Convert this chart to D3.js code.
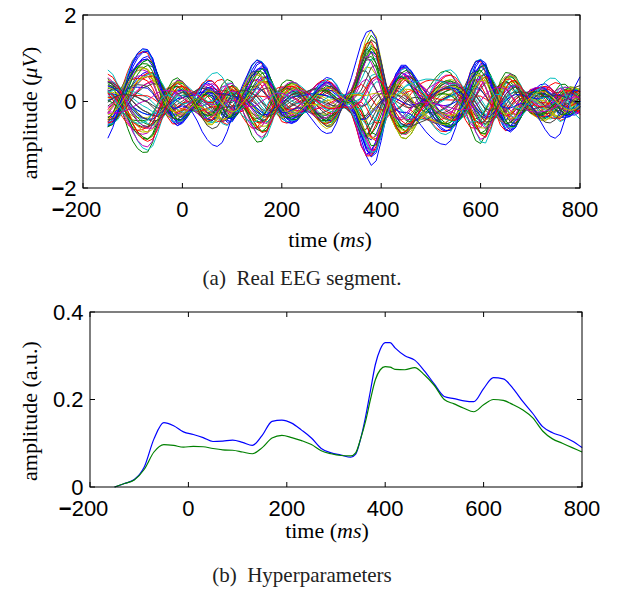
<!DOCTYPE html>
<html lang="en">
<head>
    <meta charset="UTF-8">
    <script src="https://cdn.jsdelivr.net/npm/d3@7"></script>
    <title>EEG segment and hyperparameters</title>
    <style>
        body { margin: 0; background: white; }
        .tick-label { font-family: "Liberation Sans", Arial, sans-serif; font-size: 22px; fill: black; }
        .axis-label { font-family: "Liberation Serif", "Times New Roman", serif; font-size: 22px; fill: black; }
        .caption { font-family: "Liberation Serif", "Times New Roman", serif; font-size: 21px; fill: #222; }
    </style>
</head>
<body>
    <div id="chart"></div>

    <script>
        // ---- (a) real EEG segment: sample times (ms) ----
        const timeMs = [
            -150, -140, -130, -120, -110, -100, -90, -80, -70, -60,
            -50, -40, -30, -20, -10, 0, 10, 20, 30, 40,
            50, 60, 70, 80, 90, 100, 110, 120, 130, 140,
            150, 160, 170, 180, 190, 200, 210, 220, 230, 240,
            250, 260, 270, 280, 290, 300, 310, 320, 330, 340,
            350, 360, 370, 380, 390, 400, 410, 420, 430, 440,
            450, 460, 470, 480, 490, 500, 510, 520, 530, 540,
            550, 560, 570, 580, 590, 600, 610, 620, 630, 640,
            650, 660, 670, 680, 690, 700, 710, 720, 730, 740,
            750, 760, 770, 780, 790, 800
        ];

        // dominant waveform shared by the channels, µV
        const waveMain = [
            -0.55, -0.45, -0.2, 0.1, 0.45, 0.75, 0.95, 1.07, 1.1, 0.95,
            0.6, 0.2, -0.15, -0.42, -0.55, -0.5, -0.35, -0.15, 0.05, 0.25,
            0.35, 0.3, 0.1, -0.2, -0.4, -0.45, -0.3, 0.0, 0.3, 0.6,
            0.8, 0.87, 0.75, 0.4, 0.0, -0.3, -0.45, -0.5, -0.45, -0.3,
            -0.1, 0.1, 0.3, 0.42, 0.48, 0.42, 0.28, 0.12, 0.02, -0.05,
            -0.4, -0.85, -1.2, -1.35, -1.2, -0.75, -0.2, 0.3, 0.65, 0.85,
            0.85, 0.7, 0.45, 0.2, 0.0, -0.2, -0.4, -0.55, -0.62, -0.62,
            -0.5, -0.3, 0.0, 0.4, 0.75, 0.92, 0.85, 0.5, 0.05, -0.35,
            -0.62, -0.7, -0.6, -0.35, -0.05, 0.2, 0.32, 0.35, 0.3, 0.15,
            -0.05, -0.25, -0.35, -0.35, -0.25, -0.1
        ];

        // shifted waveform that gives the channels their phase spread
        const waveShift = [
            0.3, 0.4, 0.5, 0.5, 0.45, 0.35, 0.22, 0.1, 0.0, -0.2,
            -0.4, -0.5, -0.45, -0.3, -0.1, 0.05, 0.15, 0.22, 0.25, 0.2,
            0.05, -0.1, -0.22, -0.25, -0.15, 0.0, 0.2, 0.35, 0.42, 0.38,
            0.25, 0.0, -0.25, -0.42, -0.45, -0.35, -0.18, 0.0, 0.12, 0.22,
            0.28, 0.28, 0.22, 0.12, 0.0, -0.12, -0.2, -0.22, -0.2, -0.2,
            -0.35, -0.55, -0.4, 0.0, 0.3, 0.45, 0.5, 0.4, 0.25, 0.1,
            -0.12, -0.3, -0.4, -0.42, -0.38, -0.3, -0.2, -0.1, 0.0, 0.12,
            0.3, 0.45, 0.55, 0.5, 0.3, 0.0, -0.35, -0.55, -0.6, -0.5,
            -0.3, 0.0, 0.25, 0.35, 0.35, 0.28, 0.15, 0.0, -0.12, -0.2,
            -0.22, -0.18, -0.08, 0.05, 0.15, 0.2
        ];

        // slow wave of the large blue channel
        const waveSlow = [
            -0.85, -0.6, -0.25, 0.15, 0.55, 0.9, 1.12, 1.22, 1.2, 1.0,
            0.6, 0.2, -0.05, -0.15, -0.15, -0.1, -0.15, -0.25, -0.45, -0.7,
            -0.88, -1.0, -1.04, -0.95, -0.7, -0.35, 0.05, 0.35, 0.6, 0.85,
            0.96, 0.9, 0.6, 0.2, -0.1, -0.25, -0.25, -0.2, -0.15, -0.15,
            -0.25, -0.4, -0.55, -0.68, -0.74, -0.72, -0.5, -0.15, 0.2, 0.55,
            0.95, 1.35, 1.6, 1.65, 1.45, 0.9, 0.35, -0.05, -0.2, -0.25,
            -0.25, -0.3, -0.4, -0.55, -0.7, -0.82, -0.92, -0.98, -1.0, -0.9,
            -0.6, -0.15, 0.3, 0.7, 0.92, 0.96, 0.8, 0.45, 0.1, -0.1,
            -0.15, -0.15, -0.1, -0.05, -0.05, -0.1, -0.25, -0.45, -0.65, -0.8,
            -0.85, -0.75, -0.4, 0.0, 0.35, 0.57
        ];

        // per-channel loadings of the three waveforms (63 channels)
        const loadMain = [
            0.95, -0.9, 0.8, -0.6, 0.7, -0.85, 0.4, 0.85, -0.95, 0.6,
            -0.75, 0.3, -0.45, 0.1, 1.0, -0.7, 0.5, -0.3, 0.9, -0.8,
            0.2, -0.55, 0.65, -0.15, 0.75, -0.9, 0.35, -0.4, 0.55, -0.65,
            0.05, 0.88, -0.5, 0.45, -0.2, 0.78, -0.85, 0.25, -0.35, 0.6,
            -0.7, 0.15, 0.95, -0.6, 0.5, -0.25, 0.7, -0.92, 0.0, -0.1,
            0.82, -0.78, 0.4, -0.45, 0.3, -0.05, 0.0, 0.68, -0.62, 0.2,
            -0.3, 0.58, -0.5
        ];
        const loadShift = [
            0.2, -0.3, 0.5, 0.1, -0.4, 0.25, 0.6, -0.2, 0.15, -0.5,
            0.35, 0.45, -0.25, 0.55, 0.0, 0.3, -0.55, 0.4, -0.1, -0.35,
            0.6, 0.2, -0.45, -0.6, 0.3, 0.05, -0.3, 0.5, 0.4, -0.15,
            0.45, -0.25, -0.4, 0.55, 0.3, 0.1, -0.05, -0.5, 0.6, -0.35,
            0.2, 0.35, -0.15, -0.45, 0.25, 0.5, 0.4, 0.1, -0.55, 0.3,
            -0.3, -0.2, -0.6, 0.45, 0.15, 0.55, 0.0, 0.25, 0.4, -0.35,
            -0.5, -0.1, 0.3
        ];
        const loadSlow = [
            0.1, -0.15, 0.2, 0.3, -0.1, 0.05, 0.25, -0.2, 0.15, 0.0,
            -0.25, 0.3, 0.1, -0.3, 0.05, 0.2, -0.1, 0.35, 0.0, 0.15,
            -0.2, 0.25, 0.1, -0.35, 0.3, -0.05, 0.2, 0.15, -0.25, 0.1,
            0.35, 0.0, -0.15, 0.2, -0.3, 0.1, 0.05, 0.25, -0.1, -0.2,
            0.3, 0.15, 0.0, 0.2, -0.35, 0.1, -0.15, 0.25, 0.3, -0.25,
            0.05, 0.2, 0.15, -0.1, 0.35, -0.3, 1.0, 0.1, -0.2, -0.55,
            0.3, -0.05, 0.45
        ];

        // ---- (b) hyperparameters ----
        const hyperTimes = [
            -150, -130, -110, -90, -70, -50, -30, -10, 10, 30, 50, 70, 90, 110, 130,
            150, 170, 190, 210, 230, 250, 270, 290, 310, 330, 340, 350, 360, 370, 380,
            390, 400, 410, 420, 440, 460, 480, 500, 520, 540, 560, 580, 600, 620, 640,
            660, 680, 700, 720, 740, 760, 780, 800
        ];
        const hyperBlue = [
            0.0, 0.008, 0.017, 0.045, 0.11, 0.147, 0.14, 0.126, 0.12, 0.113, 0.104, 0.105, 0.107, 0.102, 0.095,
            0.118, 0.15, 0.153, 0.146, 0.13, 0.112, 0.088, 0.078, 0.073, 0.068, 0.075, 0.11, 0.16, 0.22, 0.28,
            0.315, 0.33, 0.33, 0.318, 0.3, 0.29, 0.265, 0.235, 0.207, 0.202, 0.197, 0.195, 0.225, 0.25, 0.247,
            0.225, 0.195, 0.168, 0.138, 0.124, 0.116, 0.105, 0.09
        ];
        const hyperGreen = [
            0.0, 0.008, 0.016, 0.04, 0.08, 0.097, 0.095, 0.091, 0.093, 0.092, 0.088, 0.085, 0.084, 0.08, 0.076,
            0.09, 0.112, 0.118, 0.113, 0.106, 0.097, 0.083, 0.076, 0.072, 0.071, 0.078, 0.11, 0.15, 0.2, 0.245,
            0.268, 0.275, 0.274, 0.269, 0.268, 0.273, 0.256, 0.232, 0.2, 0.19, 0.18, 0.172, 0.188, 0.2, 0.198,
            0.188, 0.176, 0.158, 0.128, 0.11, 0.1, 0.09, 0.08
        ];

        const xTickValues = [-200, 0, 200, 400, 600, 800];
        const eegTickValues = [-2, 0, 2];
        const hyperTickValues = [0, 0.2, 0.4];

        // MATLAB default line colour order
        const colorOrder = ["#0000ff", "#008000", "#ff0000", "#00bfbf", "#bf00bf", "#bfbf00", "#404040"];

        const width = 620, height = 591;
        const svg = d3.select("#chart").append("svg")
            .attr("width", width)
            .attr("height", height);
        svg.append("rect").attr("width", width).attr("height", height).attr("fill", "white");

        function drawFrame(x, y, yTicks, yFormat) {
            const [x0, x1] = x.range();
            const [y0, y1] = y.range();
            const g = svg.append("g");
            const tickLen = 5;

            xTickValues.forEach(t => {
                g.append("line").attr("x1", x(t)).attr("x2", x(t)).attr("y1", y0).attr("y2", y0 - tickLen)
                    .attr("stroke", "black");
                g.append("line").attr("x1", x(t)).attr("x2", x(t)).attr("y1", y1).attr("y2", y1 + tickLen)
                    .attr("stroke", "black");
                const label = g.append("text").attr("class", "tick-label")
                    .attr("x", x(t)).attr("y", y0 + 29)
                    .attr("text-anchor", "middle")
                    .text(Math.abs(t));
                if (t < 0) {
                    const w = label.node().getComputedTextLength();
                    g.append("text").attr("class", "tick-label")
                        .attr("x", x(t) - w / 2).attr("y", y0 + 29)
                        .attr("text-anchor", "end")
                        .style("font-weight", "bold")
                        .text("\u2212");
                }
            });

            yTicks.forEach(v => {
                g.append("line").attr("x1", x0).attr("x2", x0 + tickLen).attr("y1", y(v)).attr("y2", y(v))
                    .attr("stroke", "black");
                g.append("line").attr("x1", x1).attr("x2", x1 - tickLen).attr("y1", y(v)).attr("y2", y(v))
                    .attr("stroke", "black");
                const label = g.append("text").attr("class", "tick-label")
                    .attr("x", x0 - 6.5).attr("y", y(v))
                    .attr("dy", "0.36em")
                    .attr("text-anchor", "end");
                if (v < 0) label.append("tspan").style("font-weight", "bold").text("\u2212");
                label.append("tspan").text(yFormat(Math.abs(v)));
            });

            g.append("rect")
                .attr("x", x0).attr("y", y1)
                .attr("width", x1 - x0).attr("height", y0 - y1)
                .attr("fill", "none").attr("stroke", "black").attr("stroke-width", 1);
        }

        function timeLabel(cx, baseline) {
            const t = svg.append("text").attr("class", "axis-label")
                .attr("x", cx).attr("y", baseline).attr("text-anchor", "middle");
            t.append("tspan").text("time (");
            t.append("tspan").style("font-style", "italic").text("ms");
            t.append("tspan").text(")");
        }

        function amplitudeLabel(cy, parts) {
            const t = svg.append("text").attr("class", "axis-label")
                .attr("transform", `translate(37,${cy}) rotate(-90)`)
                .attr("text-anchor", "middle");
            parts.forEach(([txt, italic]) => {
                t.append("tspan").style("font-style", italic ? "italic" : "normal").text(txt);
            });
        }

        // ---- panel (a) ----
        const xA = d3.scaleLinear().domain([-200, 800]).range([83, 580]);
        const yA = d3.scaleLinear().domain([-2, 2]).range([188, 15]);

        const channels = loadMain.map((w, i) =>
            timeMs.map((t, k) => ({
                t: t,
                v: w * waveMain[k] + loadShift[i] * waveShift[k] + loadSlow[i] * waveSlow[k]
            }))
        );

        const lineA = d3.line().x(d => xA(d.t)).y(d => yA(d.v)).curve(d3.curveLinear);
        svg.append("g")
            .selectAll("path")
            .data(channels)
            .join("path")
            .attr("d", lineA)
            .attr("fill", "none")
            .attr("stroke", (d, i) => colorOrder[i % colorOrder.length])
            .attr("stroke-width", 1);

        drawFrame(xA, yA, eegTickValues, d3.format("d"));
        timeLabel(330, 247);
        amplitudeLabel(113, [["amplitude (", false], ["\u03bcV", true], [")", false]]);

        svg.append("text").attr("class", "caption")
            .attr("x", 302).attr("y", 285).attr("text-anchor", "middle")
            .style("white-space", "pre")
            .text("(a)  Real EEG segment.");

        // ---- panel (b) ----
        const xB = d3.scaleLinear().domain([-200, 800]).range([90, 582]);
        const yB = d3.scaleLinear().domain([0, 0.4]).range([487, 312]);

        const lineB = d3.line().x((d, i) => xB(hyperTimes[i])).y(d => yB(d)).curve(d3.curveMonotoneX);
        [[hyperBlue, "#0000ff"], [hyperGreen, "#008000"]].forEach(([series, color]) => {
            svg.append("path")
                .datum(series)
                .attr("d", lineB)
                .attr("fill", "none")
                .attr("stroke", color)
                .attr("stroke-width", 1.2);
        });

        drawFrame(xB, yB, hyperTickValues, v => v === 0 ? "0" : d3.format(".1f")(v));
        timeLabel(327, 538);
        amplitudeLabel(411, [["amplitude (a.u.)", false]]);

        svg.append("text").attr("class", "caption")
            .attr("x", 302).attr("y", 582).attr("text-anchor", "middle")
            .style("white-space", "pre")
            .text("(b)  Hyperparameters");
    </script>
</body>
</html>
